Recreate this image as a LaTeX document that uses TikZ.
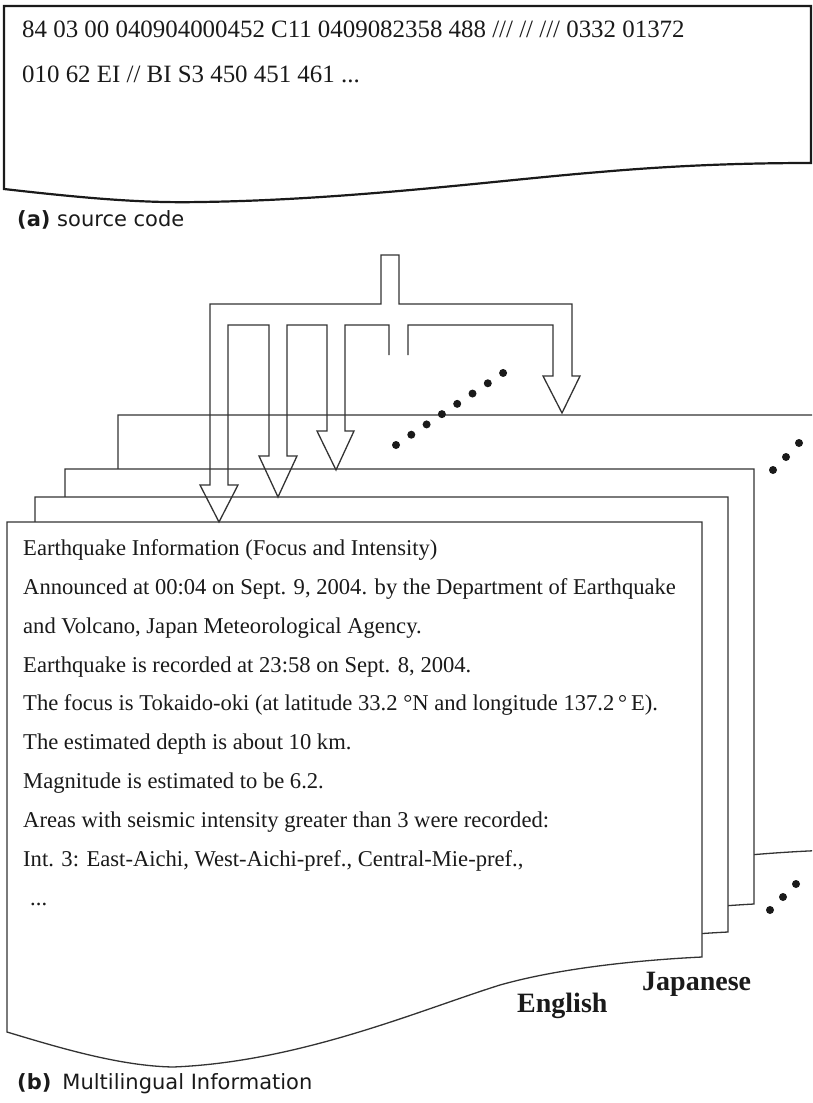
\documentclass[tikz,border=0pt]{standalone}
\usepackage{fontspec}
\setmainfont{Liberation Serif}
\newfontfamily\labfont{DejaVu Sans}
\definecolor{lc}{HTML}{333333}
\definecolor{tc}{HTML}{1A1A1A}
\newcommand\pagepath[1]{(7,522) -- (#1,522) -- (#1,957) .. controls (640,960) and (560,968) .. (500,985) .. controls (420,1010) and (300,1062) .. (173,1067) .. controls (120,1066) and (60,1048) .. (7,1032) -- cycle}
\begin{document}
\begin{tikzpicture}[x=1pt,y=-1pt,
  pageline/.style={draw=lc,line width=1.3pt,fill=white,line join=miter},
  topline/.style={draw=tc,line width=2.2pt},
  arrowline/.style={draw=lc,line width=1.3pt,line join=miter},
  dotstyle/.style={fill=tc},
  srctext/.style={anchor=base west,inner sep=0pt,text=tc,font=\fontsize{24.9}{28}\selectfont},
  bodytext/.style={anchor=base west,inner sep=0pt,text=tc,font=\fontsize{22.6}{26}\selectfont},
  langtext/.style={anchor=base west,inner sep=0pt,text=tc,font=\bfseries\fontsize{28}{32}\selectfont},
  captext/.style={anchor=base west,inner sep=0pt,text=tc,font=\labfont\fontsize{21}{25}\selectfont}]
\useasboundingbox (0,0) rectangle (812,1103);
\clip (0,0) rectangle (812,1103);

% (a) source code box
\draw[topline] (4,189) -- (4,6) -- (811,6) -- (811,163)
  .. controls (750,163) and (680,165) .. (600,172)
  .. controls (500,180) and (350,200) .. (200,202)
  .. controls (150,203) and (100,200) .. (4,189) -- cycle;
\node[srctext] (src1) at (22,37) {84 03 00 040904000452 C11 0409082358 488 /// // /// 0332 01372};
\node[srctext] (src2) at (22,82) {010 62 EI // BI S3 450 451 461 ...};
\node[captext] (capa) at (17,226) {\textbf{(a)} source code};

% stacked pages
\path[pageline,shift={(111,-107)}] \pagepath{720};
\path[pageline,shift={(58,-53)}] \pagepath{696};
\path[pageline,shift={(28,-25)}] \pagepath{700};
\path[pageline] \pagepath{702};

% distribution arrows
\draw[arrowline] (389,355) -- (389,325) -- (345,325) -- (345,431) -- (354,431) -- (336,470)
  -- (317,431) -- (327,431) -- (327,325) -- (287,325) -- (287,456) -- (297,456) -- (278,497)
  -- (259,456) -- (269,456) -- (269,325) -- (228,325) -- (228,485) -- (238,485) -- (219,522)
  -- (200,485) -- (210,485) -- (210,304) -- (381,304) -- (381,255) -- (399,255) -- (399,304)
  -- (572,304) -- (572,376) -- (580,376) -- (562,413) -- (543,376) -- (553,376) -- (553,325)
  -- (408,325) -- (408,355);

% dots
\foreach \i in {0,...,7}
  \fill[dotstyle] ({396+15.3*\i},{445-10.29*\i}) circle[radius=4];
\foreach \p in {(773,470),(786,457),(799,443),(770,910),(783,897),(796,884)}
  \fill[dotstyle] \p circle[radius=4];

% front page text
\node[bodytext] (t1) at (23,555) {Earthquake Information (Focus and Intensity)};
\node[bodytext] (t2) at (23,594) {Announced at 00:04 on Sept. 9, 2004. by the Department of Earthquake};
\node[bodytext] (t3) at (23,633) {and Volcano, Japan Meteorological Agency.};
\node[bodytext] (t4) at (23,672) {Earthquake is recorded at 23:58 on Sept. 8, 2004.};
\node[bodytext] (t5) at (23,710) {The focus is Tokaido-oki (at latitude 33.2 °N and longitude 137.2\,°\,E).};
\node[bodytext] (t6) at (23,749) {The estimated depth is about 10 km.};
\node[bodytext] (t7) at (23,788) {Magnitude is estimated to be 6.2.};
\node[bodytext] (t8) at (23,827) {Areas with seismic intensity greater than 3 were recorded:};
\node[bodytext] (t9) at (23,866) {Int. 3: East-Aichi, West-Aichi-pref., Central-Mie-pref.,};
\node[bodytext] (t10) at (30,905) {...};

% language labels
\node[langtext] (jp) at (642,990) {Japanese};
\node[langtext] (en) at (517,1012) {English};

\node[captext] (capb) at (17,1089) {\textbf{(b)}\hspace{11pt}Multilingual Information};
\end{tikzpicture}
\end{document}
